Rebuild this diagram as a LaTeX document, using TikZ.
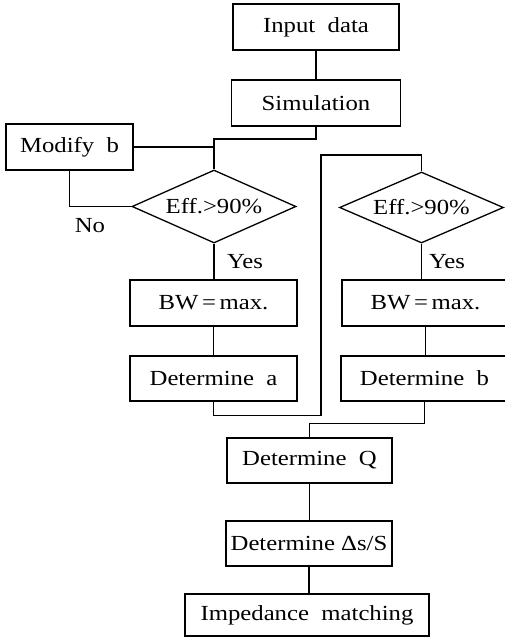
\documentclass[tikz,border=0pt]{standalone}
\usepackage{fontspec}
\setmainfont{Liberation Serif}[FakeStretch=1.15]
\usetikzlibrary{shapes.geometric}

\begin{document}
\begin{tikzpicture}[x=1pt,y=-1pt,line width=1.3pt,
    every node/.style={font=\fontsize{21.5}{25}\selectfont},
    box/.style={draw,rectangle,inner sep=0pt,minimum height=46pt},
    test/.style={draw,diamond,aspect=2.2,inner sep=0pt,minimum width=164pt,minimum height=73pt}]
    \useasboundingbox (0,0) rectangle (505,638);
    % main column
    \node[box,minimum width=166pt] (inp) at (316,27) {Input~~data};
    \node[box,minimum width=169pt] (sim) at (316,103) {Simulation};
    \node[box,minimum width=127pt] (modb) at (69.5,147) {Modify~~b};
    % first branch
    \node[test] (effa) at (214,206.5) {Eff.>90\%};
    \node[box,minimum width=167pt] (bwa) at (213.5,303) {BW\,=\,max.};
    \node[box,minimum width=167pt,minimum height=45pt] (deta) at (213.5,378.5) {Determine~~a};
    % second branch
    \node[test,minimum height=71pt] (effb) at (421.5,207.5) {Eff.>90\%};
    \node[box,minimum width=167pt] (bwb) at (425.5,303) {BW\,=\,max.};
    \node[box,minimum width=167pt,minimum height=45pt] (detb) at (424.5,378.5) {Determine~~b};
    % final steps
    \node[box,minimum width=165pt,minimum height=45pt] (detq) at (309.5,460.5) {Determine~~Q};
    \node[box,minimum width=166pt,minimum height=45pt] (dets) at (309,543.5) {Determine~Δs/S};
    \node[box,minimum width=244pt,minimum height=42pt] (imp) at (307,615) {Impedance~~matching};
    % labels
    \node (no) at (90,226) {No};
    \node (yesa) at (245,262) {Yes};
    \node (yesb) at (447,262) {Yes};
    \coordinate (ja) at (214,139);
    \coordinate (jb) at (321,155);
    % connectors
    \draw (inp.south) -- (inp.south |- sim.north);
    \draw (sim.south) |- (ja) -- (effa.north);
    \draw (modb.east) -- (modb.east -| ja);
    \draw (effa.west) -| (modb.south);
    \draw (effa.south) -- (effa.south |- bwa.north);
    \draw (bwa) -- (deta);
    \draw (deta.south) -- ++(0,14) -| (jb) -| (effb.north);
    \draw (effb.south) -- (effb.south |- bwb.north);
    \draw (bwb.south) -- (bwb.south |- detb.north);
    \draw (detb.south) -- ++(0,22) -| (detq.north);
    \draw (detq) -- (detq.south |- dets.north);
    \draw (dets) -- (dets.south |- imp.north);
\end{tikzpicture}
\end{document}
